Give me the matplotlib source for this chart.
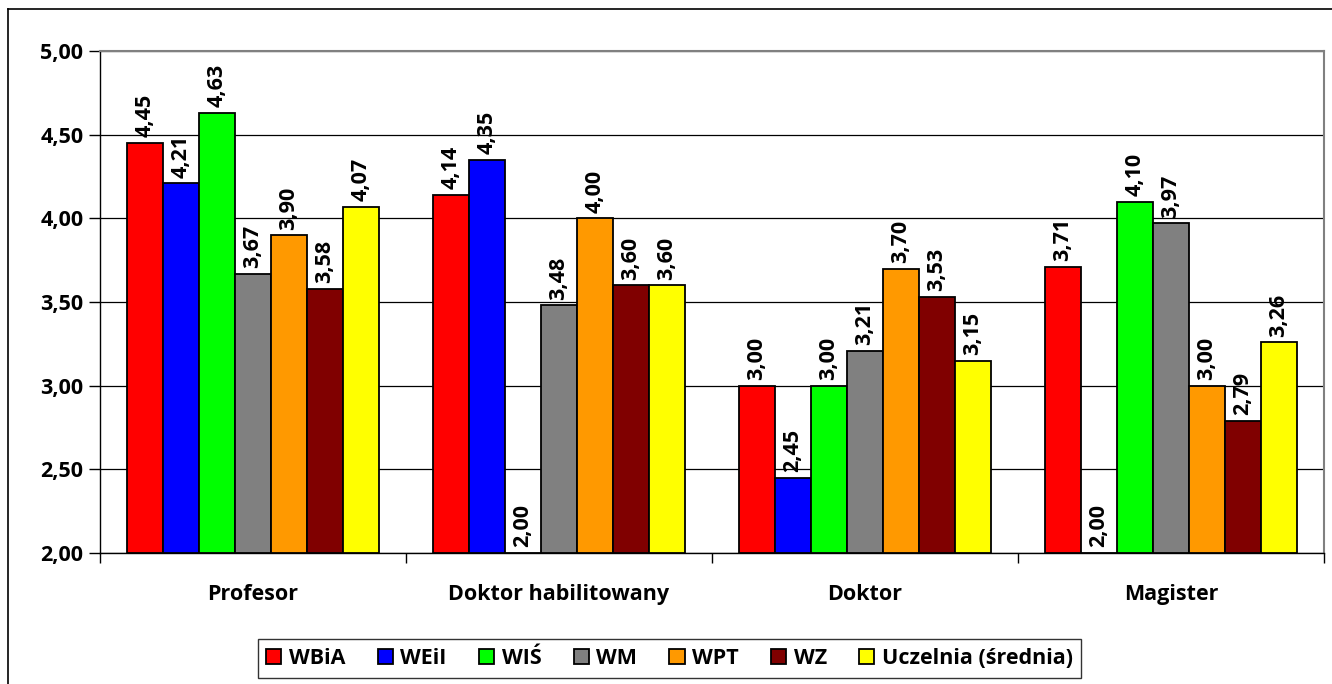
import numpy as np
import matplotlib
matplotlib.use("Agg")
import matplotlib.pyplot as plt
from matplotlib.lines import Line2D

# ==== DANE ====
categories = ["Profesor", "Doktor habilitowany", "Doktor", "Magister"]
series_names = ["WBiA", "WEiI", "WIŚ", "WM", "WPT", "WZ", "Uczelnia (średnia)"]
colors = ["#FF0000", "#0000FF", "#00FF00", "#808080", "#FF9900", "#800000", "#FFFF00"]

wbia = [4.45, 4.14, 3.00, 3.71]
weii = [4.21, 4.35, 2.45, 2.00]
wis = [4.63, 2.00, 3.00, 4.10]
wm = [3.67, 3.48, 3.21, 3.97]
wpt = [3.90, 4.00, 3.70, 3.00]
wz = [3.58, 3.60, 3.53, 2.79]
uczelnia = [4.07, 3.60, 3.15, 3.26]
series = [wbia, weii, wis, wm, wpt, wz, uczelnia]

plt.rcParams["font.family"] = ["Open Sans", "DejaVu Sans"]
plt.rcParams["font.weight"] = "bold"
FS = 15.5

fig = plt.figure(figsize=(13.32, 6.84), dpi=100)
ax = fig.add_axes([100 / 1332, 1 - 553 / 684, 1224 / 1332, 502 / 684])

x = np.arange(len(categories))
n = len(series)
group = 252 / 306  # szerokość grupy słupków
w = group / n
base = 2.0

for i, (vals, name, col) in enumerate(zip(series, series_names, colors)):
    pos = x - group / 2 + w * (i + 0.5)
    heights = [v - base for v in vals]
    ax.bar(pos, heights, width=w, bottom=base, color=col, edgecolor="black",
           linewidth=1.3, label=name, zorder=3)
    for p, v in zip(pos, vals):
        ax.annotate(f"{v:.2f}".replace(".", ","), (p, v), xytext=(0, 4),
                    textcoords="offset points", rotation=90, ha="center",
                    va="bottom", fontsize=FS, fontweight="bold", zorder=4)

ax.set_xlim(-0.5, len(categories) - 0.5)
ax.set_ylim(2.0, 5.0)
yt = np.arange(2.0, 5.01, 0.5)
ax.set_yticks(yt)
ax.set_yticklabels([f"{t:.2f}".replace(".", ",") for t in yt])
ax.tick_params(axis="y", labelsize=FS, length=8, width=1, pad=4)
ax.yaxis.grid(True, color="black", linewidth=0.9, zorder=0)

ax.set_xticks(x)
ax.set_xticklabels(categories)
ax.set_xticks(np.arange(-0.5, len(categories) - 0.4, 1), minor=True)
ax.tick_params(axis="x", which="major", length=0, labelsize=FS, pad=22)
ax.tick_params(axis="x", which="minor", length=7, width=1)

for s in ["top", "right"]:
    ax.spines[s].set_color("#808080")
    ax.spines[s].set_linewidth(1.5)
for s in ["left", "bottom"]:
    ax.spines[s].set_color("black")
    ax.spines[s].set_linewidth(1.0)

# ramka wykresu
fig.add_artist(Line2D([8 / 1332, 1.2], [1 - 9 / 684] * 2, color="black",
                      linewidth=1.2, transform=fig.transFigure))
fig.add_artist(Line2D([8 / 1332] * 2, [-0.2, 1 - 9 / 684], color="black",
                      linewidth=1.2, transform=fig.transFigure))

leg = fig.legend(loc="center", bbox_to_anchor=(669.5 / 1332, 1 - 658.5 / 684),
                 ncol=7, fontsize=FS, frameon=True, fancybox=False,
                 edgecolor="black", handlelength=0.7, handleheight=0.7,
                 handletextpad=0.35, columnspacing=1.5, borderpad=0.4)
leg.get_frame().set_linewidth(1.0)

plt.savefig("out.png", dpi=100)
